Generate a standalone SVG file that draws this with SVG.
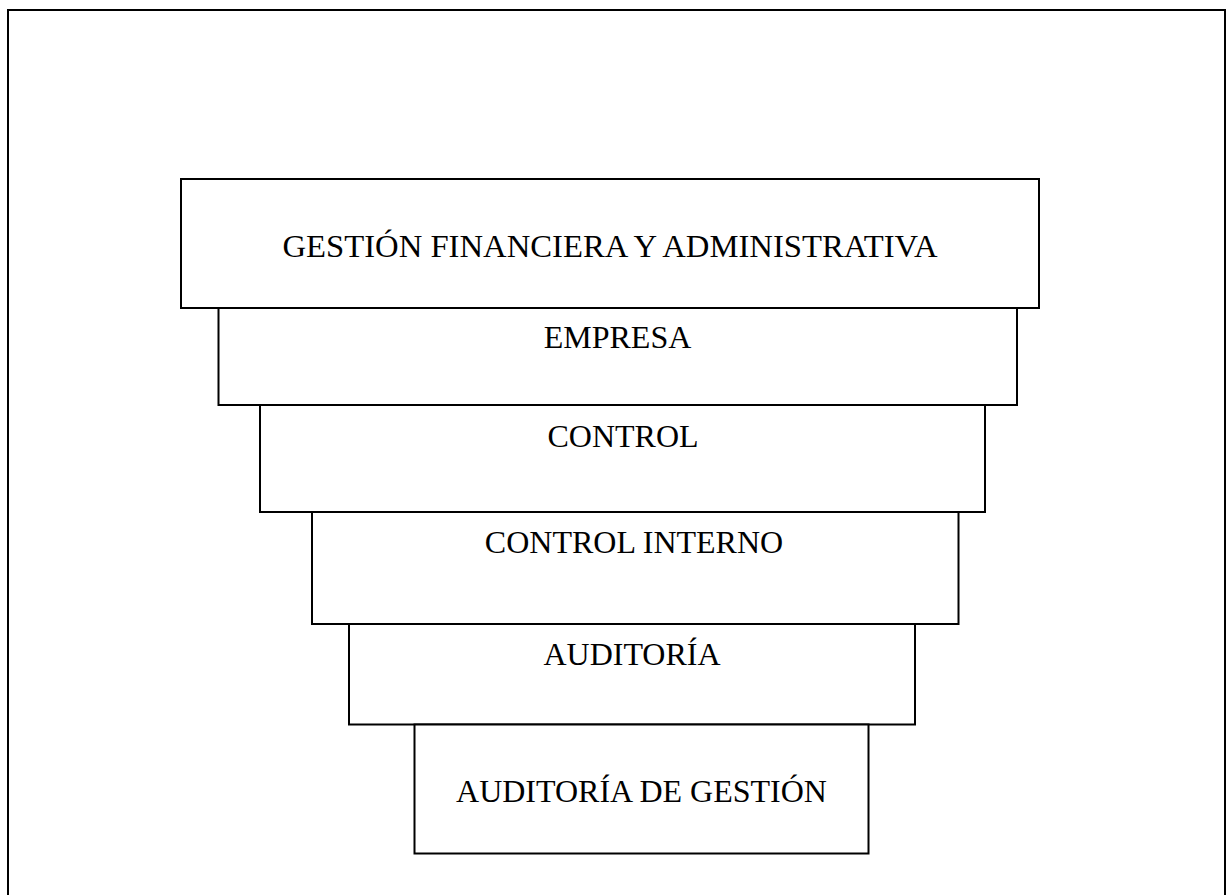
<svg xmlns="http://www.w3.org/2000/svg" width="1228" height="895" viewBox="0 0 1228 895">
<style>
.frame{fill:none;stroke:#000;stroke-width:2}
.box{fill:#fff;stroke:#000;stroke-width:2}
.lbl{font-family:"Liberation Serif","Times New Roman",serif;font-size:32px;fill:#000;text-anchor:middle}
</style>
<rect width="1228" height="895" fill="#fff"/>
<rect class="frame" x="8" y="10" width="1217" height="900"/>
<g id="connectors"></g>
<g id="n1"><rect class="box" x="181" y="179" width="858" height="129"/><text class="lbl" x="610" y="257" textLength="655" lengthAdjust="spacingAndGlyphs">GESTIÓN FINANCIERA Y ADMINISTRATIVA</text></g>
<g id="n2"><rect class="box" x="218.5" y="308" width="798.5" height="97"/><text class="lbl" x="617.5" y="348">EMPRESA</text></g>
<g id="n3"><rect class="box" x="260" y="405" width="725" height="107"/><text class="lbl" x="623" y="447">CONTROL</text></g>
<g id="n4"><rect class="box" x="312" y="512" width="646.5" height="112"/><text class="lbl" x="634" y="553">CONTROL INTERNO</text></g>
<g id="n5"><rect class="box" x="349" y="624" width="566" height="100.5"/><text class="lbl" x="632" y="665">AUDITORÍA</text></g>
<g id="n6"><rect class="box" x="414.5" y="724.5" width="454" height="129"/><text class="lbl" x="641.5" y="802">AUDITORÍA DE GESTIÓN</text></g>
</svg>
